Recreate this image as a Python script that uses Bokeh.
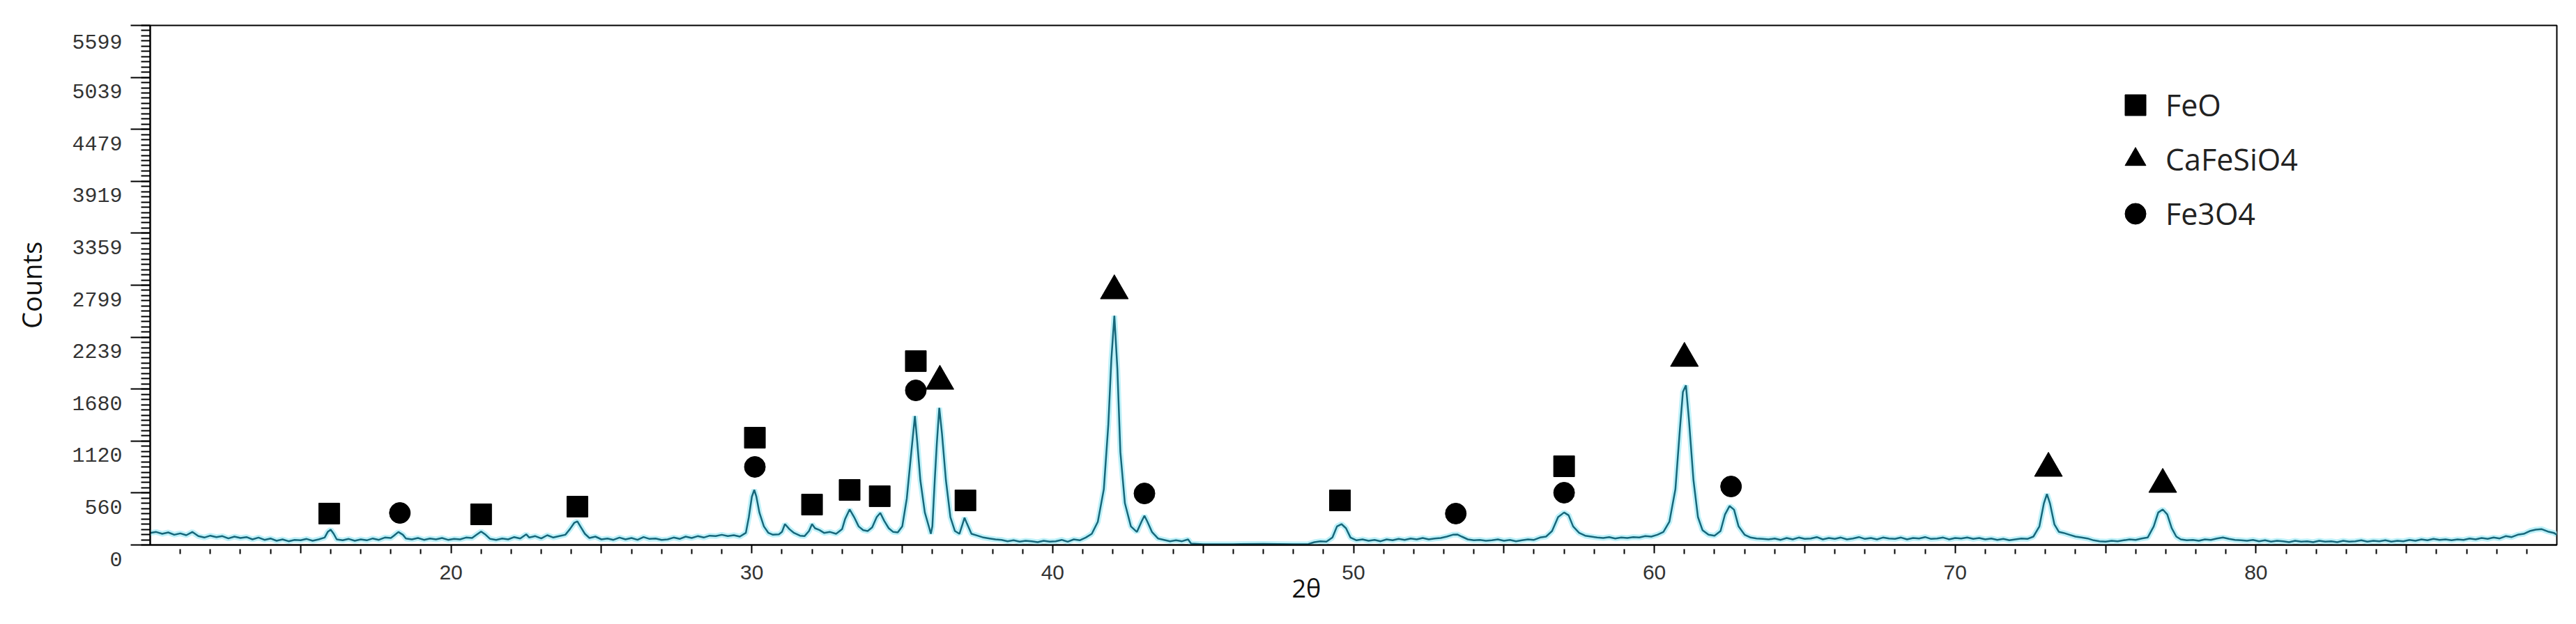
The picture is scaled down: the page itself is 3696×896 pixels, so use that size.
from bokeh.plotting import figure
from bokeh.models import FixedTicker, Range1d, Legend, LegendItem, Title
from bokeh.embed import file_html
from bokeh.resources import INLINE

# ---- diffractogram (2theta in degrees, counts) ----
two_theta = [
    10.0, 10.2, 10.4, 10.6, 10.8, 11.0, 11.2, 11.4, 11.6, 11.8, 12.0, 12.2, 12.4, 12.6, 12.8,
    13.0, 13.2, 13.4, 13.6, 13.8, 14.0, 14.2, 14.4, 14.6, 14.8, 15.0, 15.2, 15.4, 15.6,
    15.8, 15.9, 16.0, 16.1, 16.2, 16.4, 16.6, 16.8, 17.0, 17.2, 17.4, 17.6, 17.8, 18.0,
    18.1, 18.25, 18.4, 18.5, 18.7, 18.9, 19.1, 19.3, 19.5, 19.7, 19.9, 20.1, 20.3, 20.5,
    20.7, 20.85, 21.0, 21.15, 21.3, 21.5, 21.7, 21.9, 22.1, 22.3, 22.5, 22.6, 22.8, 23.0,
    23.2, 23.4, 23.6, 23.8, 23.95, 24.1, 24.2, 24.3, 24.45, 24.6, 24.8, 25.0, 25.2, 25.4,
    25.6, 25.8, 26.0, 26.2, 26.4, 26.6, 26.8, 27.0, 27.2, 27.4, 27.6, 27.8, 28.0, 28.2,
    28.4, 28.6, 28.8, 29.0, 29.2, 29.4, 29.6, 29.8, 29.9, 30.0, 30.08, 30.15, 30.25, 30.4,
    30.55, 30.7, 30.9, 31.0, 31.1, 31.25, 31.4, 31.6, 31.75, 31.9, 32.0, 32.1, 32.25, 32.4,
    32.6, 32.8, 33.0, 33.1, 33.25, 33.4, 33.55, 33.7, 33.85, 34.0, 34.15, 34.27, 34.4, 34.55,
    34.7, 34.85, 35.0, 35.15, 35.3, 35.42, 35.5, 35.6, 35.75, 35.9, 35.95, 36.0, 36.08, 36.15,
    36.23, 36.32, 36.45, 36.6, 36.75, 36.9, 37.0, 37.07, 37.15, 37.3, 37.5, 37.7, 37.9, 38.1,
    38.3, 38.5, 38.7, 38.9, 39.1, 39.3, 39.5, 39.7, 39.9, 40.1, 40.3, 40.5, 40.7, 40.9,
    41.1, 41.3, 41.5, 41.7, 41.85, 41.95, 42.05, 42.15, 42.25, 42.4, 42.6, 42.8, 42.95, 43.05,
    43.15, 43.3, 43.5, 43.7, 43.9, 44.1, 44.3, 44.5, 44.6, 45.0, 46.0, 47.0, 48.0, 48.5,
    48.7, 48.9, 49.1, 49.3, 49.45, 49.6, 49.75, 49.9, 50.1, 50.3, 50.5, 50.7, 50.9, 51.1,
    51.3, 51.5, 51.7, 51.9, 52.1, 52.3, 52.5, 52.7, 52.9, 53.1, 53.3, 53.45, 53.6, 53.8,
    54.0, 54.2, 54.4, 54.6, 54.8, 55.0, 55.2, 55.4, 55.6, 55.8, 56.0, 56.2, 56.4, 56.6,
    56.8, 57.0, 57.15, 57.3, 57.5, 57.7, 57.9, 58.1, 58.3, 58.5, 58.7, 58.9, 59.1, 59.3,
    59.5, 59.7, 59.9, 60.1, 60.3, 60.5, 60.7, 60.85, 60.95, 61.05, 61.15, 61.3, 61.45, 61.6,
    61.8, 62.0, 62.2, 62.35, 62.5, 62.65, 62.8, 63.0, 63.2, 63.4, 63.6, 63.8, 64.0, 64.2,
    64.4, 64.6, 64.8, 65.0, 65.2, 65.4, 65.6, 65.8, 66.0, 66.2, 66.4, 66.6, 66.8, 67.0,
    67.2, 67.4, 67.6, 67.8, 68.0, 68.2, 68.4, 68.6, 68.8, 69.0, 69.2, 69.4, 69.6, 69.8,
    70.0, 70.2, 70.4, 70.6, 70.8, 71.0, 71.2, 71.4, 71.6, 71.8, 72.0, 72.2, 72.4, 72.6,
    72.8, 72.95, 73.05, 73.15, 73.3, 73.45, 73.6, 73.8, 74.0, 74.2, 74.4, 74.6, 74.8, 75.0,
    75.2, 75.4, 75.6, 75.8, 76.0, 76.2, 76.4, 76.6, 76.75, 76.9, 77.05, 77.2, 77.35, 77.5,
    77.7, 77.9, 78.1, 78.3, 78.5, 78.7, 78.9, 79.1, 79.3, 79.5, 79.7, 79.9, 80.1, 80.3,
    80.5, 80.7, 80.9, 81.1, 81.3, 81.5, 81.7, 81.9, 82.1, 82.3, 82.5, 82.7, 82.9, 83.1,
    83.3, 83.5, 83.7, 83.9, 84.1, 84.3, 84.5, 84.7, 84.9, 85.1, 85.3, 85.5, 85.7, 85.9,
    86.1, 86.3, 86.5, 86.7, 86.9, 87.1, 87.3, 87.5, 87.7, 87.9, 88.1, 88.3, 88.5, 88.7,
    88.9, 89.1, 89.3, 89.5, 89.7, 89.9, 90.0,
]
counts = [
    130, 140, 120, 135, 110, 125, 105, 140, 95, 80, 100, 85, 95, 70, 90,
    75, 85, 60, 80, 55, 70, 45, 60, 40, 55, 50, 65, 45, 60,
    80, 140, 165, 120, 60, 50, 65, 45, 60, 50, 70, 55, 80, 75,
    100, 140, 110, 70, 60, 75, 55, 70, 60, 75, 55, 65, 60, 80,
    75, 110, 145, 110, 65, 55, 70, 60, 85, 70, 115, 80, 95, 70,
    105, 80, 95, 110, 170, 240, 255, 200, 120, 75, 90, 60, 70, 55,
    80, 60, 75, 55, 85, 65, 70, 55, 60, 80, 65, 90, 75, 95,
    80, 100, 95, 110, 95, 105, 90, 130, 300, 520, 593, 520, 350, 200,
    130, 110, 115, 140, 225, 170, 130, 100, 95, 150, 225, 180, 160, 130,
    140, 120, 170, 280, 383, 300, 200, 160, 150, 190, 300, 345, 260, 180,
    140, 135, 200, 500, 1000, 1390, 1100, 700, 350, 180, 120, 200, 700, 1100,
    1478, 1200, 700, 300, 150, 120, 220, 293, 230, 120, 100, 80, 70, 60,
    55, 40, 50, 35, 45, 40, 30, 45, 35, 40, 55, 35, 60, 50,
    80, 120, 250, 600, 1300, 2000, 2470, 1900, 1000, 450, 200, 140, 250, 315,
    250, 140, 70, 55, 40, 50, 40, 60, 15, 8, 8, 12, 8, 10,
    30, 40, 35, 80, 200, 225, 180, 80, 50, 60, 45, 55, 40, 60,
    50, 65, 55, 70, 60, 75, 60, 70, 75, 90, 110, 113, 90, 60,
    50, 55, 45, 50, 60, 45, 55, 40, 50, 60, 55, 80, 90, 150,
    300, 350, 320, 200, 130, 100, 90, 80, 75, 85, 70, 80, 75, 85,
    80, 95, 90, 110, 140, 250, 600, 1250, 1650, 1720, 1350, 700, 300, 160,
    110, 100, 150, 330, 420, 380, 200, 110, 80, 70, 65, 60, 70, 55,
    75, 60, 80, 65, 70, 85, 60, 75, 65, 80, 60, 70, 85, 65,
    75, 60, 80, 70, 65, 80, 60, 75, 70, 85, 65, 70, 80, 60,
    75, 70, 80, 65, 75, 60, 70, 55, 65, 50, 60, 70, 65, 90,
    200, 450, 548, 450, 220, 140, 130, 110, 90, 80, 70, 50, 40, 35,
    45, 40, 50, 60, 55, 70, 80, 200, 350, 383, 330, 180, 90, 60,
    50, 55, 45, 60, 55, 70, 80, 65, 55, 50, 45, 55, 40, 50,
    35, 45, 40, 30, 45, 35, 40, 30, 45, 35, 40, 30, 45, 35,
    40, 50, 35, 45, 40, 50, 35, 45, 40, 55, 45, 60, 50, 65,
    55, 60, 50, 60, 55, 70, 60, 75, 65, 80, 70, 95, 85, 110,
    120, 150, 165, 170, 145, 130, 110,
]

# ---- phase markers ----
feo_x = [15.95, 21.0, 24.2, 30.1, 32.0, 33.25, 34.25, 35.45, 37.1, 49.55, 57.0]
feo_y = [338, 330, 413, 1156, 435, 593, 525, 1981, 480, 480, 848]
cafesio4_x = [36.25, 42.05, 61.0, 73.1, 76.9]
cafesio4_y = [1764, 2739, 2011, 826, 653]
fe3o4_x = [18.3, 30.1, 35.45, 43.05, 53.4, 57.0, 62.55]
fe3o4_y = [345, 841, 1666, 555, 338, 563, 630]

phase_names = ["FeO", "CaFeSiO4", "Fe3O4"]

# ---- axis ticks ----
y_tick_values = [0, 559.9, 1119.8, 1679.7, 2239.6, 2799.5, 3359.4, 3919.3, 4479.2, 5039.1, 5599.0]
y_tick_labels = ["0", "560", "1120", "1680", "2239", "2799", "3359", "3919", "4479", "5039", "5599"]
x_tick_values = [15, 20, 25, 30, 35, 40, 45, 50, 55, 60, 65, 70, 75, 80, 85]
x_tick_labels = ["", "20", "", "30", "", "40", "", "50", "", "60", "", "70", "", "80", ""]
x_title = "2θ"
y_title = "Counts"

p = figure(width=3696, height=896, output_backend="svg", toolbar_location=None,
           x_range=Range1d(10, 90), y_range=Range1d(0, 5599),
           min_border_left=215, min_border_right=28, min_border_top=36, min_border_bottom=114)
p.background_fill_color = "white"
p.border_fill_color = "white"
p.outline_line_color = "black"
p.outline_line_width = 2
p.xgrid.visible = False
p.ygrid.visible = False

# trace: light cyan glow + dark teal line
p.line(two_theta, counts, line_color="#aeeef7", line_width=8, line_alpha=0.8)
p.line(two_theta, counts, line_color="#17677a", line_width=2.5)

r_feo = p.scatter(feo_x, feo_y, marker="square", size=30, fill_color="black", line_color="black")
r_ca = p.scatter(cafesio4_x, cafesio4_y, marker="triangle", size=40, fill_color="black", line_color="black")
r_fe3 = p.scatter(fe3o4_x, fe3o4_y, marker="circle", size=30, fill_color="black", line_color="black")

legend = Legend(items=[LegendItem(label=phase_names[0], renderers=[r_feo]),
                       LegendItem(label=phase_names[1], renderers=[r_ca]),
                       LegendItem(label=phase_names[2], renderers=[r_fe3])],
                location=(2811, 438), glyph_width=75, glyph_height=75, spacing=3,
                padding=0, margin=0, label_standoff=6,
                label_text_font="Open Sans", label_text_font_size="43px", label_text_color="#222222",
                border_line_alpha=0, background_fill_alpha=0)
p.add_layout(legend)

# y axis
ya = p.yaxis[0]
ya.ticker = FixedTicker(ticks=y_tick_values,
                        minor_ticks=[i * 55.99 for i in range(101)])
ya.major_label_overrides = {v: "\n" + s for v, s in zip(y_tick_values, y_tick_labels)}
ya.major_label_text_font = "Liberation Mono"
ya.major_label_text_font_size = "30px"
ya.major_label_text_color = "#333333"
ya.major_label_text_line_height = 1.3
ya.major_label_standoff = 12
ya.major_tick_out = 28
ya.major_tick_in = 0
ya.minor_tick_out = 13
ya.minor_tick_in = 0
ya.major_tick_line_width = 2
ya.minor_tick_line_width = 2
ya.axis_line_width = 2
ya.axis_label = y_title
ya.axis_label_text_font = "Open Sans"
ya.axis_label_text_font_size = "38px"
ya.axis_label_text_font_style = "normal"
ya.axis_label_text_color = "#111111"
ya.axis_label_standoff = 29

# x axis
xa = p.xaxis[0]
xa.ticker = FixedTicker(ticks=x_tick_values,
                        minor_ticks=[v for v in range(11, 90) if v % 5 != 0])
xa.major_label_overrides = {v: s for v, s in zip(x_tick_values, x_tick_labels)}
xa.major_label_text_font = "Liberation Sans"
xa.major_label_text_font_size = "30px"
xa.major_label_text_color = "#333333"
xa.major_label_standoff = 16
xa.major_tick_out = 12
xa.major_tick_in = 0
xa.minor_tick_in = -6
xa.minor_tick_out = 13
xa.major_tick_line_width = 2
xa.minor_tick_line_width = 2
xa.axis_line_width = 2

# x-axis title, placed slightly left of centre as in the original
p.add_layout(Title(text=x_title, align="left", offset=1638, standoff=-33,
                   text_font="Open Sans", text_font_size="36px", text_font_style="normal",
                   text_color="#111111"), "below")

open("out.html", "w").write(file_html(p, INLINE))
